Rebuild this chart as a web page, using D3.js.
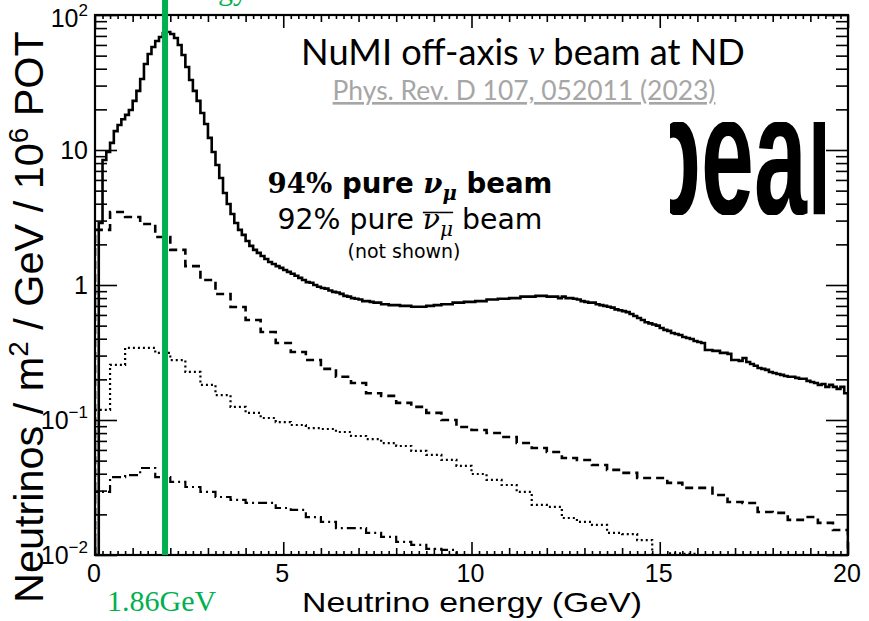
<!DOCTYPE html>
<html>
<head>
<meta charset="utf-8">
<script src="https://cdn.jsdelivr.net/npm/d3@7"></script>
<style>
  body { margin: 0; background: #ffffff; }
  svg { display: block; }
</style>
</head>
<body>
<svg id="chart" width="869" height="621"></svg>
<script>
// ---- Flux histograms (neutrinos / m^2 / GeV / 10^6 POT) ----
// muon neutrino, 0.1 GeV bins from 0 to 20 GeV
const numuBinWidth = 0.1;
const numuFlux = [
  0, 2.88, 8.43, 9.66, 11.3, 13.8, 15.3, 16.9, 18.2, 19.8,
  23.1, 27.4, 33.6, 43.4, 51.4, 57.9, 64.2, 68.7, 73.5, 74.8,
  72.3, 67.6, 60.0, 50.6, 41.2, 33.0, 27.4, 23.1, 18.8, 15.6,
  12.3, 9.66, 7.74, 6.20, 4.80, 3.98, 3.36, 2.88, 2.56, 2.35,
  2.12, 1.95, 1.82, 1.73, 1.64, 1.56, 1.48, 1.43, 1.38, 1.34,
  1.29, 1.25, 1.21, 1.17, 1.13, 1.09, 1.05, 1.04, 1.00, 0.97,
  0.95, 0.94, 0.91, 0.89, 0.88, 0.86, 0.83, 0.82, 0.80, 0.79,
  0.78, 0.76, 0.76, 0.75, 0.74, 0.74, 0.72, 0.72, 0.71, 0.71,
  0.71, 0.70, 0.70, 0.70, 0.69, 0.69, 0.69, 0.69, 0.70, 0.70,
  0.71, 0.71, 0.72, 0.72, 0.72, 0.74, 0.74, 0.74, 0.75, 0.75,
  0.75, 0.76, 0.76, 0.76, 0.78, 0.78, 0.78, 0.79, 0.79, 0.79,
  0.80, 0.80, 0.80, 0.82, 0.82, 0.82, 0.82, 0.83, 0.83, 0.83,
  0.82, 0.82, 0.82, 0.80, 0.82, 0.80, 0.80, 0.79, 0.78, 0.76,
  0.75, 0.74, 0.74, 0.72, 0.71, 0.70, 0.69, 0.68, 0.66, 0.65,
  0.64, 0.63, 0.61, 0.59, 0.57, 0.55, 0.53, 0.52, 0.51, 0.50,
  0.48, 0.465, 0.457, 0.441, 0.434, 0.426, 0.412, 0.405, 0.398, 0.385,
  0.378, 0.372, 0.330, 0.330, 0.325, 0.325, 0.314, 0.314, 0.309, 0.278,
  0.278, 0.274, 0.288, 0.269, 0.260, 0.252, 0.243, 0.239, 0.235, 0.227,
  0.223, 0.219, 0.216, 0.212, 0.209, 0.209, 0.205, 0.202, 0.202, 0.195,
  0.191, 0.188, 0.182, 0.185, 0.176, 0.182, 0.176, 0.170, 0.176, 0.158
];

// the other flavours use 0.4 GeV bins
const minorBinWidth = 0.4;
const numubarFlux = [
  2.56, 3.47, 3.19, 2.83, 2.27, 1.82, 1.38, 1.09, 0.858, 0.687,
  0.550, 0.449, 0.372, 0.319, 0.278, 0.239, 0.209, 0.188, 0.158, 0.151,
  0.134, 0.125, 0.113, 0.100, 0.0888, 0.0844, 0.0801, 0.0749, 0.0675, 0.0620,
  0.0580, 0.0523, 0.0506, 0.0464, 0.0427, 0.0406, 0.0372, 0.0372, 0.0342, 0.0314,
  0.0314, 0.0278, 0.0247, 0.0243, 0.0208, 0.0205, 0.0182, 0.0191, 0.0173, 0.0153
];
const nueFlux = [
  0.119, 0.256, 0.342, 0.342, 0.314, 0.278, 0.227, 0.182, 0.153, 0.125,
  0.113, 0.1035, 0.0966, 0.0918, 0.0872, 0.0858, 0.0815, 0.0761, 0.0722, 0.0675,
  0.0642, 0.0590, 0.0551, 0.0506, 0.0457, 0.0398, 0.0360, 0.0330, 0.0293, 0.0235,
  0.0227, 0.0188, 0.0176, 0.0167, 0.0146, 0.0143, 0.0129, 0.009, 0.0103, 0.0102
];
const nuebarFlux = [
  0.0293, 0.0378, 0.0391, 0.0441, 0.0378, 0.0348, 0.0319, 0.0293, 0.0269, 0.0256,
  0.0243, 0.0243, 0.0223, 0.0216, 0.0191, 0.0176, 0.0158, 0.0158, 0.0146, 0.0136,
  0.0125, 0.0119, 0.0111, 0.0109
];

// ---- Axes ----
const xDomain = [0, 20];
const yDomain = [0.01, 100];
const xMajorTicks = [0, 5, 10, 15, 20];
const yDecades = [-2, -1, 0, 1, 2];
const peakEnergy = 1.86; // GeV

// ---- Layout ----
const frame = { left: 95, right: 848, top: 15, bottom: 555 };
const svg = d3.select("#chart");
const x = d3.scaleLinear().domain(xDomain).range([frame.left, frame.right]);
const y = d3.scaleLog().domain(yDomain).range([frame.bottom, frame.top]);
const defs = svg.append("defs");

defs.append("clipPath").attr("id", "plot-clip").append("rect")
  .attr("x", frame.left).attr("y", frame.top)
  .attr("width", frame.right - frame.left).attr("height", frame.bottom - frame.top);

// uniformly scale a text element about (ax, ay) so that its extent becomes `target`
function fitText(sel, target, ax, ay, vertical) {
  const b = sel.node().getBBox();
  const f = target / (vertical ? b.height : b.width);
  const prev = sel.attr("transform") || "";
  sel.attr("transform", `translate(${ax},${ay}) scale(${f}) translate(${-ax},${-ay}) ${prev}`);
}

// step outline of a histogram, starting and ending on the lower edge
function histPath(values, width) {
  const floor = yDomain[0];
  const pts = [[0, floor]];
  values.forEach((v, i) => {
    pts.push([i * width, v]);
    pts.push([(i + 1) * width, v]);
  });
  pts.push([values.length * width, floor]);
  return d3.line()
    .x(d => x(d[0]))
    .y(d => y(Math.max(d[1], floor)))(pts);
}

const histG = svg.append("g").attr("clip-path", "url(#plot-clip)");
const series = [
  { values: nuebarFlux, width: minorBinWidth, dash: "9,4,2,4", sw: 2.2 },
  { values: nueFlux, width: minorBinWidth, dash: "2,3", sw: 2.2 },
  { values: numubarFlux, width: minorBinWidth, dash: "8,5", sw: 2.6 },
  { values: numuFlux, width: numuBinWidth, dash: null, sw: 2.6 }
];
series.forEach(s => {
  histG.append("path")
    .attr("d", histPath(s.values, s.width))
    .attr("fill", "none")
    .attr("stroke", "#000")
    .attr("stroke-width", s.sw)
    .attr("stroke-dasharray", s.dash);
});

// ---- Frame and ticks ----
const tickStyle = g => {
  g.select(".domain").remove();
  g.selectAll(".tick line").attr("stroke", "#000").attr("stroke-width", 1.6);
};
const xMinor = d3.range(0, 20.001, 1).filter(v => v % 5 !== 0);
const xTiny = d3.range(0, 20.001, 0.2).map(v => +v.toFixed(1)).filter(v => Math.abs(v - Math.round(v)) > 1e-6);
const yMinor = [];
yDecades.slice(0, -1).forEach(d => { for (let m = 2; m <= 9; m++) yMinor.push(m * Math.pow(10, d)); });
const yMajor = yDecades.map(d => Math.pow(10, d));

[[xMajorTicks, 13], [xMinor, 7], [xTiny, 4]].forEach(([vals, len]) => {
  svg.append("g").attr("transform", `translate(0,${frame.bottom})`)
    .call(d3.axisBottom(x).tickValues(vals).tickSize(-len).tickFormat(""))
    .call(tickStyle);
  svg.append("g").attr("transform", `translate(0,${frame.top})`)
    .call(d3.axisTop(x).tickValues(vals).tickSize(-len).tickFormat(""))
    .call(tickStyle);
});
[[yMajor, 22], [yMinor, 12]].forEach(([vals, len]) => {
  svg.append("g").attr("transform", `translate(${frame.left},0)`)
    .call(d3.axisLeft(y).tickValues(vals).tickSize(-len).tickFormat(""))
    .call(tickStyle);
  svg.append("g").attr("transform", `translate(${frame.right},0)`)
    .call(d3.axisRight(y).tickValues(vals).tickSize(-len).tickFormat(""))
    .call(tickStyle);
});

svg.append("rect")
  .attr("x", frame.left).attr("y", frame.top)
  .attr("width", frame.right - frame.left).attr("height", frame.bottom - frame.top)
  .attr("fill", "none").attr("stroke", "#000").attr("stroke-width", 2.2);

// x tick labels
const labelFont = "'Liberation Sans', Arial, Helvetica, sans-serif";
svg.append("g").selectAll("text").data(xMajorTicks).join("text")
  .attr("x", d => x(d) - 1)
  .attr("y", frame.bottom + 27)
  .attr("text-anchor", "middle")
  .attr("font-family", labelFont)
  .attr("font-size", 25)
  .text(d => d);

// y tick labels (powers of ten)
const yl = svg.append("g").selectAll("text").data(yDecades).join("text")
  .attr("x", frame.left - 7)
  .attr("y", d => y(Math.pow(10, d)) + (d === 2 ? 12 : 9))
  .attr("text-anchor", "end")
  .attr("font-family", labelFont)
  .attr("font-size", 25);
yl.each(function (d) {
  const t = d3.select(this);
  if (d === 0) { t.text("1"); return; }
  t.append("tspan").text("10");
  if (d !== 1) {
    t.append("tspan").attr("dy", -11).attr("font-size", 17)
      .text(d < 0 ? "\u2212" + Math.abs(d) : String(d));
  }
});

// axis titles
svg.append("text")
  .attr("x", 302).attr("y", 612)
  .attr("font-family", labelFont).attr("font-size", 28)
  .attr("textLength", 340).attr("lengthAdjust", "spacingAndGlyphs")
  .text("Neutrino energy (GeV)");

const yTitle = svg.append("text")
  .attr("x", 43).attr("y", 603)
  .attr("transform", "rotate(-90,43,603)")
  .attr("font-family", labelFont).attr("font-size", 40);
yTitle.append("tspan").text("Neutrinos / m");
yTitle.append("tspan").attr("dy", -15).attr("font-size", 27).text("2");
yTitle.append("tspan").attr("dy", 15).text(" / GeV / 10");
yTitle.append("tspan").attr("dy", -15).attr("font-size", 27).text("6");
yTitle.append("tspan").attr("dy", 15).text(" POT");
{
  // size the rotated title to the span it occupies beside the axis
  const len = yTitle.node().getBBox().width;
  const k = 572 / len;
  yTitle.attr("font-size", 40 * k);
  yTitle.selectAll("tspan").filter(function () { return this.getAttribute("font-size"); })
    .attr("font-size", 27 * k);
}

// ---- Peak energy marker ----
const green = "#00b050";
svg.append("line")
  .attr("x1", x(peakEnergy)).attr("x2", x(peakEnergy))
  .attr("y1", 0).attr("y2", frame.bottom)
  .attr("stroke", green).attr("stroke-width", 6);
svg.append("text")
  .attr("x", 107).attr("y", 611)
  .attr("font-family", "'Liberation Serif', 'DejaVu Serif', serif")
  .attr("font-size", 30).attr("fill", green)
  .text(peakEnergy + "GeV");
svg.append("text")
  .attr("x", 248).attr("y", -0.5)
  .attr("text-anchor", "end")
  .attr("font-family", "'Liberation Serif', 'DejaVu Serif', serif")
  .attr("font-size", 30).attr("fill", green)
  .text("Peak energy");

// ---- Annotations ----
const title = svg.append("text")
  .attr("x", 523).attr("y", 65).attr("text-anchor", "middle")
  .attr("font-family", "Lato, 'Open Sans', sans-serif").attr("font-size", 34)
  .attr("fill", "#000");
title.append("tspan").text("NuMI off-axis ");
title.append("tspan").attr("font-family", "'Liberation Serif', serif").attr("font-style", "italic").text("\u03bd");
title.append("tspan").text(" beam at ND");
fitText(title, 444, 523, 65);

const cite = svg.append("text")
  .attr("x", 524).attr("y", 100).attr("text-anchor", "middle")
  .attr("font-family", "Lato, 'Open Sans', sans-serif").attr("font-size", 24.5)
  .attr("fill", "#a6a6a6").attr("text-decoration", "underline")
  .text("Phys. Rev. D 107, 052011 (2023)");
fitText(cite, 383, 524, 100);

const sansF = "'DejaVu Sans', Verdana, sans-serif";
const serifF = "'DejaVu Serif', 'Liberation Serif', serif";
const l1 = svg.append("text")
  .attr("x", 410).attr("y", 193).attr("text-anchor", "middle")
  .attr("font-size", 24).attr("font-weight", "bold").attr("font-family", sansF);
l1.append("tspan").attr("font-family", serifF).text("94%");
l1.append("tspan").text(" pure ");
l1.append("tspan").attr("font-family", serifF).attr("font-style", "italic").text("\u03bd");
l1.append("tspan").attr("font-family", serifF).attr("font-style", "italic")
  .attr("font-size", 17).attr("dy", 6).text("\u03bc");
l1.append("tspan").attr("dy", -6).text(" beam");
fitText(l1, 285, 410, 193);

const l2g = svg.append("g");
const l2 = l2g.append("text")
  .attr("x", 410).attr("y", 229).attr("text-anchor", "middle")
  .attr("font-size", 24).attr("font-family", sansF);
l2.append("tspan").text("92% pure ");
l2.append("tspan").attr("font-family", serifF).attr("font-style", "italic").text("\u03bd");
l2.append("tspan").attr("font-family", serifF).attr("font-style", "italic")
  .attr("font-size", 17).attr("dy", 6).text("\u03bc");
l2.append("tspan").attr("dy", -6).text(" beam");
{
  // bar over the antineutrino symbol, drawn in the text's own coordinates
  const node = l2.node();
  const s = node.getStartPositionOfChar(9);
  const e = node.getEndPositionOfChar(10);
  l2g.append("line")
    .attr("x1", s.x).attr("x2", e.x)
    .attr("y1", 215).attr("y2", 215)
    .attr("stroke", "#000").attr("stroke-width", 1.3);
}
fitText(l2g, 265, 410, 229);

const ns = svg.append("text")
  .attr("x", 404).attr("y", 258).attr("text-anchor", "middle")
  .attr("font-size", 18).attr("font-family", sansF)
  .text("(not shown)");
fitText(ns, 113, 404, 258);

// cropped logo lettering at the right
defs.append("clipPath").attr("id", "logo-clip").append("rect")
  .attr("x", 670).attr("y", 122).attr("width", 155).attr("height", 93);
svg.append("g").attr("clip-path", "url(#logo-clip)")
  .append("text")
  .attr("transform", "translate(643,214) scale(0.55,1)")
  .attr("font-family", "'Liberation Sans', Arial, sans-serif")
  .attr("font-weight", "bold").attr("font-size", 173)
  .text("peal");
</script>
</body>
</html>
